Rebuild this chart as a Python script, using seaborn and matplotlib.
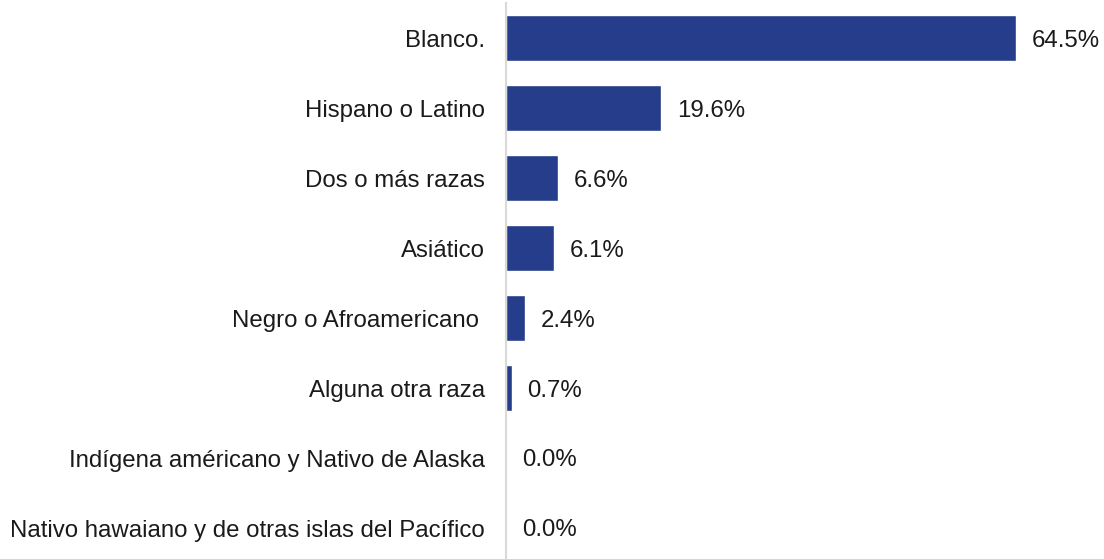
import matplotlib
matplotlib.use("Agg")
import matplotlib.pyplot as plt
import seaborn as sns
import pandas as pd

categories = [
    "Blanco.",
    "Hispano o Latino",
    "Dos o más razas",
    "Asiático",
    "Negro o Afroamericano ",
    "Alguna otra raza",
    "Indígena américano y Nativo de Alaska",
    "Nativo hawaiano y de otras islas del Pacífico",
]
values = [64.5, 19.6, 6.6, 6.1, 2.4, 0.7, 0.0, 0.0]
value_labels = ["64.5%", "19.6%", "6.6%", "6.1%", "2.4%", "0.7%", "0.0%", "0.0%"]

sns.set_style("white")
plt.rcParams["font.family"] = ["Liberation Sans", "DejaVu Sans"]

df = pd.DataFrame({"cat": categories, "val": values})

fig = plt.figure(figsize=(11.04, 5.59), dpi=100)
ax = fig.add_axes([506 / 1104, -4 / 559, 598 / 1104, 560 / 559])

sns.barplot(data=df, x="val", y="cat", color="#253D8B", width=0.66,
            saturation=1, ax=ax, orient="h")

ax.set_xlim(0, 598 / 7.9)
ax.set_ylim(7.5, -0.5)
ax.set_xlabel("")
ax.set_ylabel("")
ax.set_xticks([])
for s in ["top", "right", "bottom"]:
    ax.spines[s].set_visible(False)
ax.spines["left"].set_color("#d9d9d9")
ax.spines["left"].set_linewidth(1.5)
ax.tick_params(axis="y", length=0, pad=15, labelsize=17.3, labelcolor="#1a1a1a")
for t in ax.get_yticklabels():
    t.set_verticalalignment("center_baseline")

for i, (v, lab) in enumerate(zip(values, value_labels)):
    ax.annotate(lab, xy=(v, i), xytext=(11.5, 0), textcoords="offset points",
                va="center_baseline", ha="left", fontsize=17.3, color="#1a1a1a")

fig.savefig("out.png", dpi=100)
